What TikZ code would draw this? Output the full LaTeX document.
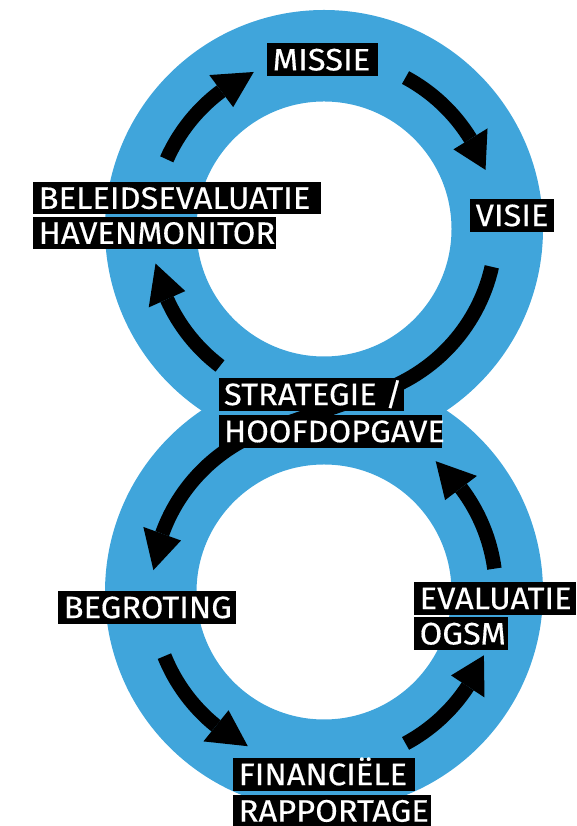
\documentclass[tikz,border=0pt]{standalone}
\usepackage{fontspec}
\setmainfont{Fira Sans}[FakeStretch=1.055, FakeBold=0.4]
\usetikzlibrary{calc}
\definecolor{ringblue}{RGB}{64,165,219}

% curved arrow along a ring: centre, start angle, head base angle, tip angle
\newcommand\ringarrow[4]{%
  \draw[shaft] ($(#1)+(#2:172pt)$) arc[start angle=#2, end angle=#3, radius=172pt];
  \fill[tipfill] ($(#1)+(#3:152pt)$) -- ($(#1)+(#4:172pt)$) -- ($(#1)+(#3:192pt)$) -- cycle;}

\begin{document}
\begin{tikzpicture}[x=1pt,y=1pt,
  ring/.style={fill=ringblue, even odd rule},
  shaft/.style={draw=black, line width=14.5pt},
  tipfill/.style={fill=black},
  lbl/.style={anchor=north west, fill=black, text=white, inner xsep=5.5pt,
    inner ysep=0pt, minimum height=32.5pt, text height=21.4pt, text depth=0pt,
    font=\fontsize{31}{31}\selectfont}]
\useasboundingbox (0,0) rectangle (576,826);

\coordinate (T) at (324,597);
\coordinate (B) at (324,234);

% the two rings of the figure eight
\fill[ring] (T) circle[radius=219pt] (T) circle[radius=127.5pt];
\fill[ring] (B) circle[radius=219pt] (B) circle[radius=127.5pt];

% upper cycle
\ringarrow{T}{156.1}{126.7}{114.1}
\ringarrow{T}{61.7}{31.6}{20.1}
\ringarrow{T}{232.8}{204.1}{191.6}

% crossing from the upper ring into the lower ring
\draw[shaft] ($(T)+(-12.7:172pt)$) arc[start angle=-12.7, end angle=-75, radius=172pt]
  -- ($(B)+(105:172pt)$) arc[start angle=105, end angle=160.2, radius=172pt];
\fill[tipfill] ($(B)+(160.2:152pt)$) -- ($(B)+(172.7:172pt)$) -- ($(B)+(160.2:192pt)$) -- cycle;

% lower cycle
\ringarrow{B}{201.9}{231.1}{243.7}
\ringarrow{B}{298.3}{326.7}{338.4}
\ringarrow{B}{7.8}{37.2}{49.5}

% labels
\node[lbl] (missie) at (267,782.7) {\makebox[100pt][l]{MISSIE}};
\node[lbl] (visie) at (470,627) {\makebox[73pt][l]{VISIE}};
\node[lbl] (beleid) at (33,644.3) {\makebox[277pt][l]{BELEIDSEVALUATIE}};
\node[lbl] (haven) at (33,609.3) {\makebox[232pt][l]{HAVENMONITOR}};
\node[lbl] (strategie) at (218.3,448) {\makebox[174pt][l]{STRATEGIE /}};
\node[lbl] (hoofd) at (218.3,411) {\makebox[212pt][l]{HOOFDOPGAVE}};
\node[lbl] (begroting) at (58,235) {\makebox[167pt][l]{BEGROTING}};
\node[lbl] (evaluatie) at (414,244) {\makebox[151pt][l]{EVALUATIE}};
\node[lbl] (ogsm) at (414,208.7) {\makebox[83pt][l]{OGSM}};
\node[lbl] (fin) at (233,68) {\makebox[171pt][l]{FINANCIËLE}};
\node[lbl] (rapp) at (233,31.5) {\makebox[187pt][l]{RAPPORTAGE}};
\end{tikzpicture}
\end{document}
